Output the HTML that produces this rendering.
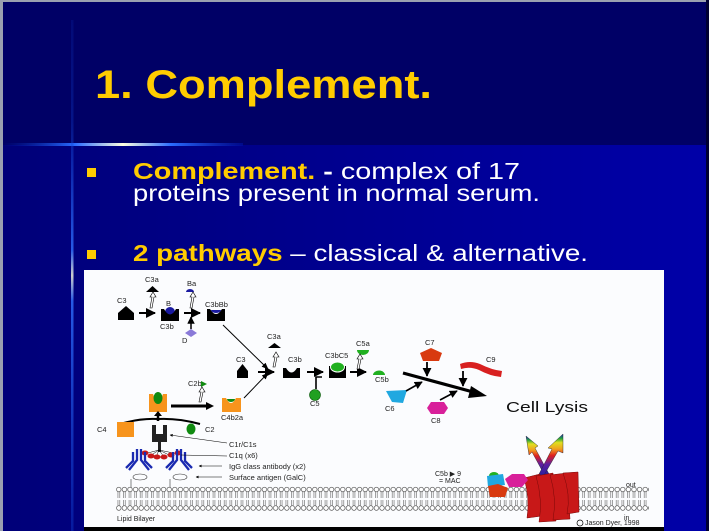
<!DOCTYPE html>
<html><head><meta charset="utf-8"><style>
html,body{margin:0;padding:0;background:#000066;}
svg{display:block;}
</style></head><body>
<svg width="709" height="531" viewBox="0 0 709 531" xmlns="http://www.w3.org/2000/svg" font-family="Liberation Sans, Arial, sans-serif">
<defs>
<linearGradient id="bg2" x1="0" y1="0" x2="1" y2="0">
<stop offset="0" stop-color="#000078"/><stop offset="1" stop-color="#0000a8"/>
</linearGradient>
<linearGradient id="hl" x1="0" y1="0" x2="1" y2="0">
<stop offset="0" stop-color="#0030c0" stop-opacity="0"/><stop offset="0.3" stop-color="#2a6cff"/><stop offset="0.5" stop-color="#ffffe0"/><stop offset="0.7" stop-color="#2a6cff"/><stop offset="1" stop-color="#0010a0" stop-opacity="0.6"/>
</linearGradient>
<linearGradient id="vl" x1="0" y1="0" x2="0" y2="1">
<stop offset="0" stop-color="#1040d0" stop-opacity="0.2"/><stop offset="0.2" stop-color="#1040d0" stop-opacity="0.4"/><stop offset="0.45" stop-color="#3070ff"/><stop offset="0.5" stop-color="#ffffe0"/><stop offset="0.55" stop-color="#3070ff"/><stop offset="1" stop-color="#1040d0" stop-opacity="0.5"/>
</linearGradient>
<linearGradient id="rb" x1="0" y1="1" x2="0" y2="0">
<stop offset="0" stop-color="#2020a0"/><stop offset="0.3" stop-color="#6020a0"/><stop offset="0.5" stop-color="#e02020"/><stop offset="0.65" stop-color="#f0a020"/><stop offset="0.8" stop-color="#e0e020"/><stop offset="0.9" stop-color="#20a040"/><stop offset="1" stop-color="#2020c0"/>
</linearGradient>
<pattern id="lip" x="116" y="486" width="5.6" height="27" patternUnits="userSpaceOnUse">
<circle cx="2.8" cy="3.5" r="2.3" fill="#fff" stroke="#444" stroke-width="0.6"/>
<circle cx="2.8" cy="22" r="2.3" fill="#fff" stroke="#444" stroke-width="0.6"/>
<line x1="1.9" y1="6" x2="1.9" y2="12" stroke="#444" stroke-width="0.5"/>
<line x1="3.7" y1="6" x2="3.7" y2="12" stroke="#444" stroke-width="0.5"/>
<line x1="1.9" y1="14" x2="1.9" y2="19.5" stroke="#444" stroke-width="0.5"/>
<line x1="3.7" y1="14" x2="3.7" y2="19.5" stroke="#444" stroke-width="0.5"/>
</pattern>
<marker id="ah" viewBox="0 0 10 10" refX="9" refY="5" markerWidth="5" markerHeight="5" orient="auto"><path d="M0,0 L10,5 L0,10 z" fill="#000"/></marker>
<marker id="ahs" viewBox="0 0 10 10" refX="9" refY="5" markerWidth="7" markerHeight="7" orient="auto" markerUnits="userSpaceOnUse"><path d="M0,1 L10,5 L0,9 z" fill="#000"/></marker>
</defs>

<rect x="0" y="0" width="709" height="531" fill="#000066"/>
<rect x="0" y="145" width="709" height="386" fill="url(#bg2)"/>
<rect x="0" y="0" width="3" height="531" fill="#9aa0b0"/>
<rect x="0" y="0" width="709" height="2" fill="#9aa0b0"/>
<rect x="706" y="0" width="3" height="531" fill="#000033"/>
<rect x="3" y="143" width="240" height="3" fill="url(#hl)"/>
<rect x="71" y="20" width="2.5" height="511" fill="url(#vl)" opacity="0.8"/>

<text x="95" y="98" font-size="40" font-weight="bold" fill="#ffcc00" textLength="337" lengthAdjust="spacingAndGlyphs">1. Complement.</text>

<rect x="87" y="168" width="9" height="9" fill="#ffcc00"/>
<text x="133" y="179" font-size="23" fill="#fff" textLength="387" lengthAdjust="spacingAndGlyphs"><tspan font-weight="bold" fill="#ffcc00">Complement.</tspan><tspan font-weight="bold"> -</tspan> complex of 17</text>
<text x="133" y="201" font-size="23" fill="#fff" textLength="407" lengthAdjust="spacingAndGlyphs">proteins present in normal serum.</text>
<rect x="87" y="250" width="9" height="9" fill="#ffcc00"/>
<text x="133" y="261" font-size="23" fill="#fff" textLength="455" lengthAdjust="spacingAndGlyphs"><tspan font-weight="bold" fill="#ffcc00">2 pathways</tspan> – classical &amp; alternative.</text>

<rect x="84" y="270" width="580" height="257" fill="#fbfcfe"/>
<rect x="84" y="527" width="580" height="4" fill="#000"/>

<g font-size="7.5" fill="#222">
<text x="117" y="303">C3</text>
<path d="M118,313 L126,306 L134,313 L134,320 L118,320 z" fill="#000"/>
<line x1="139" y1="313" x2="155" y2="313" stroke="#000" stroke-width="2" marker-end="url(#ah)"/>
<text x="145" y="282">C3a</text>
<path d="M146,292 L152.5,286 L159,292 z" fill="#000"/>
<path d="M150,308 L152,297 L150,297 L153,292 L156,297 L154,297 L152,308 z" fill="#fff" stroke="#000" stroke-width="0.6"/>
<text x="166" y="306">B</text>
<circle cx="170" cy="312" r="5" fill="#1a1aa0"/>
<path d="M161,309 L164,309 Q170,320 176,309 L179,309 L179,321 L161,321 z" fill="#000"/>
<text x="160" y="329">C3b</text>
<line x1="184" y1="313" x2="200" y2="313" stroke="#000" stroke-width="2" marker-end="url(#ah)"/>
<text x="187" y="286">Ba</text>
<path d="M186,292 A4,3 0 0 1 194,292 z" fill="#1a1aa0"/>
<path d="M190,308 L192,297 L190,297 L193,292 L196,297 L194,297 L192,308 z" fill="#fff" stroke="#000" stroke-width="0.6"/>
<line x1="191" y1="329" x2="191" y2="317" stroke="#000" stroke-width="1.5" marker-end="url(#ah)"/>
<path d="M191,329 L197,333 L191,337 L185,333 z" fill="#8a7ad8"/>
<text x="182" y="343">D</text>
<text x="205" y="307">C3bBb</text>
<path d="M207,309 L210,309 Q216,319 222,309 L225,309 L225,321 L207,321 z" fill="#000"/>
<path d="M211,310 A5,3 0 0 0 221,310 z" fill="#1a1aa0"/>
<line x1="223" y1="325" x2="268" y2="369" stroke="#000" stroke-width="1" marker-end="url(#ahs)"/>

<text x="236" y="362">C3</text>
<path d="M237,371 L242.5,364 L248,371 L248,378 L237,378 z" fill="#000"/>
<line x1="258" y1="372" x2="274" y2="372" stroke="#000" stroke-width="2" marker-end="url(#ah)"/>
<text x="267" y="339">C3a</text>
<path d="M268,348 L274.5,343 L281,348 z" fill="#000"/>
<path d="M273,367 L275,357 L273,357 L276,352 L279,357 L277,357 L275,367 z" fill="#fff" stroke="#000" stroke-width="0.6"/>
<text x="288" y="362">C3b</text>
<path d="M283,368 L286,368 Q291.5,377 297,368 L300,368 L300,378 L283,378 z" fill="#000"/>
<line x1="307" y1="372" x2="323" y2="372" stroke="#000" stroke-width="2" marker-end="url(#ah)"/>
<path d="M316,389 L316,377 L322,377" fill="none" stroke="#000" stroke-width="1.6"/>
<circle cx="315" cy="395" r="5.5" fill="#20a020" stroke="#0a5a0a" stroke-width="0.6"/>
<text x="310" y="406">C5</text>
<text x="325" y="358">C3bC5</text>
<path d="M329,366 L346,366 L346,378 L329,378 z" fill="#000"/>
<ellipse cx="337.5" cy="367" rx="7" ry="5" fill="#20b020" stroke="#fff" stroke-width="1"/>
<line x1="350" y1="372" x2="366" y2="372" stroke="#000" stroke-width="2" marker-end="url(#ah)"/>
<text x="356" y="346">C5a</text>
<path d="M357,350 A6,5 0 0 0 369,350 z" fill="#20b020"/>
<path d="M357,369 L359,359 L357,359 L360,354 L363,359 L361,359 L359,369 z" fill="#fff" stroke="#000" stroke-width="0.6"/>
<path d="M373,375 A6,4.5 0 0 1 385,375 z" fill="#20b020"/>
<text x="375" y="382">C5b</text>

<path d="M403,373 L475,392.5" stroke="#000" stroke-width="3.2"/>
<path d="M471,386 L487,396 L468,398 z" fill="#000"/>
<text x="425" y="345">C7</text>
<path d="M431,348 L442,353 L439,361 L423,361 L420,353 z" fill="#d83a10"/>
<line x1="427" y1="362" x2="427" y2="376" stroke="#000" stroke-width="1.8" marker-end="url(#ah)"/>
<text x="486" y="362">C9</text>
<path d="M460,364 Q470,360 480,364 Q492,370 502,371 L501,377 Q490,376 479,370 Q470,366 461,369 z" fill="#d82020"/>
<line x1="463" y1="371" x2="463" y2="386" stroke="#000" stroke-width="1.8" marker-end="url(#ah)"/>
<path d="M386,391 L407,390 L403,403 L392,402 z" fill="#20a8e0"/>
<line x1="406" y1="391" x2="422" y2="382" stroke="#000" stroke-width="1.6" marker-end="url(#ah)"/>
<text x="385" y="411">C6</text>
<path d="M431,402 L444,402 L448,408 L444,414 L431,414 L427,408 z" fill="#d8209a"/>
<line x1="440" y1="400" x2="457" y2="391" stroke="#000" stroke-width="1.6" marker-end="url(#ah)"/>
<text x="431" y="423">C8</text>
<text x="506" y="412" font-size="14.5" fill="#111" textLength="82" lengthAdjust="spacingAndGlyphs">Cell Lysis</text>

<text x="188" y="386">C2b</text>
<path d="M201,381 L207,384 L201,387 z" fill="#108a10"/>
<path d="M199,402 L201,392 L199,392 L202,387 L205,392 L203,392 L201,402 z" fill="#fff" stroke="#000" stroke-width="0.6"/>
<path d="M149,394 L153,394 Q158,408 163,394 L167,394 L167,412 L149,412 z" fill="#f7941d"/>
<ellipse cx="158" cy="398" rx="4.5" ry="6" fill="#108a10"/>
<line x1="171" y1="406" x2="208" y2="406" stroke="#000" stroke-width="3"/>
<path d="M206,402 L214,406 L206,410 z" fill="#000"/>
<path d="M222,398 L226,398 Q231,408 236,398 L241,398 L241,412 L222,412 z" fill="#f7941d"/>
<path d="M227,399 A4,3 0 0 0 235,399 z" fill="#108a10"/>
<text x="221" y="420">C4b2a</text>
<line x1="244" y1="398" x2="268" y2="373" stroke="#000" stroke-width="1" marker-end="url(#ahs)"/>
<path d="M120,424 Q140,418 158,419 Q178,418 200,424" fill="none" stroke="#000" stroke-width="2"/>
<line x1="158" y1="421" x2="158" y2="414" stroke="#000" stroke-width="2.5"/>
<path d="M154,416 L158,411 L162,416 z" fill="#000"/>
<text x="97" y="432">C4</text>
<rect x="117" y="422" width="17" height="15" fill="#f7941d"/>
<ellipse cx="191" cy="429" rx="4.5" ry="5.5" fill="#108a10"/>
<text x="205" y="432">C2</text>
<path d="M152,425 L156,425 L156,434 L163,434 L163,425 L167,425 L167,442 L161,442 L161,452 L158,452 L158,442 L152,442 z" fill="#222"/>
<g stroke="#000" stroke-width="0.5"><line x1="159" y1="450" x2="144" y2="454"/><line x1="159" y1="450" x2="150" y2="456"/><line x1="159" y1="450" x2="156" y2="457"/><line x1="159" y1="450" x2="164" y2="457"/><line x1="159" y1="450" x2="171" y2="456"/><line x1="159" y1="450" x2="178" y2="454"/></g>
<g fill="#c81818"><ellipse cx="145" cy="453" rx="3.5" ry="2.5"/><ellipse cx="151" cy="456" rx="3.5" ry="2.5"/><ellipse cx="157" cy="457" rx="3.5" ry="2.5"/><ellipse cx="164" cy="457" rx="3.5" ry="2.5"/><ellipse cx="171" cy="455" rx="3.5" ry="2.5"/><ellipse cx="178" cy="453" rx="3.5" ry="2.5"/></g>
<g fill="none" stroke="#1a2ab0" stroke-width="2.3">
<path d="M137,449 L137,460 L129,470 M141,449 L141,460 L149,470 M133,452 L133,461 L126,468 M145,452 L145,461 L152,468"/>
<path d="M177,449 L177,460 L169,470 M181,449 L181,460 L189,470 M173,452 L173,461 L166,468 M185,452 L185,461 L192,468"/>
</g>
<g fill="none" stroke="#333" stroke-width="0.6">
<ellipse cx="140" cy="477" rx="7" ry="3"/><line x1="131" y1="479" x2="131" y2="489"/>
<ellipse cx="180" cy="477" rx="7" ry="3"/><line x1="170" y1="479" x2="170" y2="489"/>
</g>
<line x1="227" y1="443" x2="170" y2="435" stroke="#000" stroke-width="0.6" marker-end="url(#ah)"/>
<text x="229" y="447">C1r/C1s</text>
<line x1="227" y1="456" x2="181" y2="455" stroke="#000" stroke-width="0.6"/>
<text x="229" y="458">C1q (x6)</text>
<line x1="222" y1="466" x2="199" y2="466" stroke="#000" stroke-width="0.6" marker-end="url(#ah)"/>
<text x="229" y="469">IgG class antibody (x2)</text>
<line x1="222" y1="477" x2="196" y2="477" stroke="#000" stroke-width="0.6" marker-end="url(#ah)"/>
<text x="229" y="480">Surface antigen (GalC)</text>

<rect x="116" y="486" width="533" height="27" fill="url(#lip)"/>
<text x="117" y="521" font-size="7">Lipid Bilayer</text>
<text x="626" y="487" font-size="7">out</text>
<text x="624" y="520" font-size="7">in</text>
<circle cx="580" cy="523" r="3" fill="none" stroke="#000" stroke-width="0.7"/>
<text x="585" y="525" font-size="7">Jason Dyer, 1998</text>

<text x="435" y="476" font-size="7">C5b ▶ 9</text>
<text x="439" y="483" font-size="7">= MAC</text>
<!-- crossing rainbow arrows -->
<path d="M545,476 L532,452 L529,455 L526,436 L538,446 L535,448 L549,474 z" fill="url(#rb)" stroke="#222" stroke-width="0.4"/>
<path d="M538,476 L552,449 L548,448 L563,434 L563,453 L558,451 L543,477 z" fill="url(#rb)" stroke="#222" stroke-width="0.4"/>
<g fill="#c81818" stroke="#7a0808" stroke-width="0.5">
<path d="M524,478 L540,474 L542,516 L527,518 Q530,498 524,478 z"/>
<path d="M536,476 L553,473 L556,521 L539,522 Q543,500 536,476 z"/>
<path d="M550,475 L567,473 L570,519 L553,520 Q557,498 550,475 z"/>
<path d="M563,473 L578,472 L579,512 L567,514 Q571,495 563,473 z"/>
</g>
<path d="M489,476 A5,4 0 0 1 499,476 z" fill="#20b020"/>
<path d="M487,476 L503,474 L505,485 L488,487 z" fill="#20a8e0"/>
<path d="M505,479 L512,474 L524,474 L528,480 L522,487 L509,487 z" fill="#d8209a"/>
<path d="M488,486 L498,484 L508,488 L505,497 L490,497 z" fill="#d83a10"/>
</g>
</svg>
</body></html>
